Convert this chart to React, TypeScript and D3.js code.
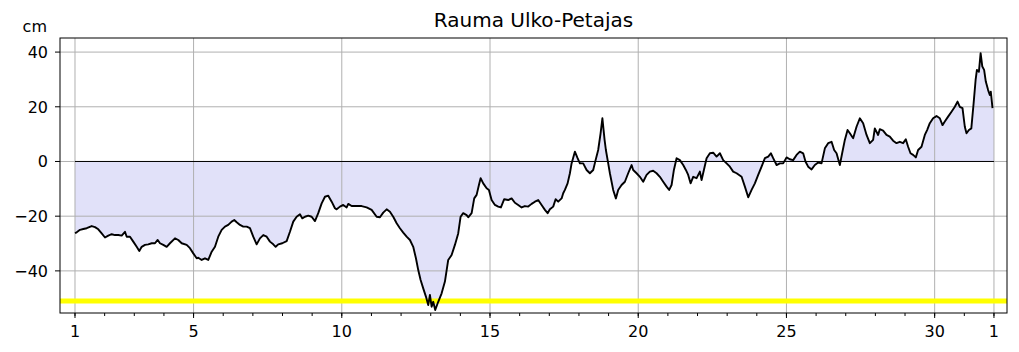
import React from "react";
import * as d3 from "d3";

const title = "Rauma Ulko-Petajas";
const unitLabel = "cm";
const yTicks = [-40, -20, 0, 20, 40];
const xMajorTicks = [1, 5, 10, 15, 20, 25, 30, 32];
const xMajorLabels = ["1", "5", "10", "15", "20", "25", "30", "1"];
const xMinorTicks = d3.range(1, 33);
const referenceLevel = -51;

const days = [
  1.0, 1.057, 1.169, 1.28, 1.395, 1.563, 1.675, 1.786, 1.9, 2.012, 2.123, 2.238, 2.349, 2.46, 2.575, 2.686, 2.744, 2.855, 2.966, 3.081, 3.169, 3.25, 3.361, 3.472, 3.587, 3.698, 3.789, 3.867, 3.978, 4.093, 4.204, 4.373, 4.484, 4.599, 4.767, 4.878, 4.99, 5.105,
  5.159, 5.273, 5.385, 5.496, 5.611, 5.722, 5.833, 5.948, 6.059, 6.17, 6.285, 6.373, 6.454, 6.565, 6.676, 6.791, 6.902, 7.013, 7.128, 7.239, 7.351, 7.466, 7.577, 7.688, 7.769, 7.857, 7.992, 8.14, 8.251, 8.363, 8.477, 8.589, 8.666, 8.757, 8.869, 8.983, 9.095, 9.206, 9.321, 9.432, 9.543, 9.658, 9.769,
  9.826, 9.938, 10.049, 10.164, 10.218, 10.332, 10.501, 10.67, 10.838, 11.007, 11.176, 11.287, 11.398, 11.513, 11.624, 11.735, 11.85, 11.961, 12.073, 12.187, 12.299, 12.41, 12.501, 12.579, 12.659, 12.747, 12.838, 12.916, 12.973, 13.03, 13.084, 13.152, 13.253, 13.368, 13.479, 13.59, 13.705, 13.816, 13.927, 14.008, 14.096, 14.211,
  14.265, 14.38, 14.467, 14.548, 14.626, 14.683, 14.771, 14.886, 14.963, 15.054, 15.166, 15.277, 15.368, 15.479, 15.614, 15.728, 15.84, 15.951, 16.066, 16.177, 16.289, 16.403, 16.515, 16.626, 16.74, 16.852, 16.943, 17.02, 17.132, 17.213, 17.3, 17.415, 17.469, 17.526, 17.617, 17.695, 17.752, 17.863, 17.954, 18.032, 18.143, 18.258, 18.369, 18.481, 18.562, 18.649, 18.73, 18.791,
  18.865, 18.909, 18.987, 19.044, 19.101, 19.155, 19.246, 19.324, 19.438, 19.55, 19.661, 19.776, 19.83, 19.944, 20.056, 20.167, 20.282, 20.393, 20.504, 20.619, 20.73, 20.842, 20.956, 21.044, 21.125, 21.203, 21.294, 21.405, 21.517, 21.607, 21.685, 21.766, 21.854, 21.969, 22.08, 22.137, 22.215, 22.306, 22.417, 22.529, 22.643, 22.755, 22.866, 22.981, 23.092, 23.203, 23.318,
  23.487, 23.598, 23.71, 23.824, 23.935, 24.047, 24.161, 24.273, 24.384, 24.474, 24.552, 24.667, 24.778, 24.889, 25.004, 25.115, 25.226, 25.341, 25.452, 25.564, 25.645, 25.732, 25.847, 25.958, 26.07, 26.184, 26.296, 26.407, 26.522, 26.609, 26.69, 26.801, 26.879, 26.97, 27.061, 27.139, 27.25, 27.364, 27.476, 27.587, 27.702, 27.813,
  27.924, 27.981, 28.092, 28.149, 28.261, 28.375, 28.487, 28.598, 28.713, 28.824, 28.935, 29.026, 29.104, 29.185, 29.273, 29.364, 29.442, 29.556, 29.668, 29.745, 29.836, 29.947, 30.062, 30.173, 30.264, 30.342, 30.453, 30.568, 30.68, 30.771, 30.848, 30.939, 31.017, 31.074, 31.155, 31.236, 31.314, 31.381, 31.425, 31.492, 31.55, 31.607, 31.668, 31.725, 31.803, 31.86, 31.894, 31.951,
];

const levels = [
  -26.2, -25.9, -25.0, -24.7, -24.4, -23.6, -24.0, -24.8, -26.3, -27.8, -27.1, -26.6, -26.9, -26.9, -27.1, -25.7, -27.5, -27.5, -29.3, -31.2, -32.7, -31.2, -30.5, -30.3, -29.9, -29.9, -28.7, -29.9, -30.5, -31.2, -29.9, -28.1, -28.7, -29.9, -30.5, -31.7, -33.6, -35.4,
  -35.2, -36.0, -35.4, -36.0, -33.0, -31.2, -27.5, -25.0, -23.8, -23.2, -22.0, -21.4, -22.2, -23.2, -23.8, -23.8, -24.4, -27.5, -30.3, -28.1, -26.9, -27.5, -29.3, -30.3, -31.2, -30.3, -29.9, -29.1, -25.7, -22.0, -20.2, -19.3, -20.8, -20.2, -19.8, -20.2, -21.8, -18.9, -15.3, -12.9, -12.5, -14.7, -17.1,
  -17.5, -16.5, -15.9, -16.8, -15.5, -16.3, -16.3, -16.3, -16.8, -17.7, -20.2, -20.4, -18.7, -17.5, -18.4, -20.2, -22.6, -24.4, -26.0, -27.5, -28.7, -31.2, -35.4, -39.7, -43.3, -46.4, -49.4, -52.5, -48.8, -53.1, -51.3, -54.3, -51.3, -48.2, -43.9, -36.0, -34.2, -30.5, -26.3, -20.2, -18.9, -19.6,
  -20.4, -18.9, -13.5, -12.2, -8.6, -6.1, -8.0, -9.8, -10.4, -14.1, -15.9, -16.5, -16.8, -13.8, -14.1, -13.5, -15.1, -15.9, -16.8, -16.3, -16.5, -15.5, -14.7, -14.1, -15.9, -17.7, -18.9, -17.5, -16.5, -13.8, -14.7, -13.5, -11.6, -10.4, -8.0, -4.3, -0.7, 3.6, 1.2, -0.7, -0.7, -3.1, -4.3, -3.1, 0.5, 4.2, 10.3, 15.8,
  7.9, 4.2, -0.7, -4.3, -7.4, -10.4, -13.5, -10.4, -8.6, -7.4, -4.3, -1.3, -3.1, -4.3, -5.6, -7.4, -4.9, -3.7, -3.4, -4.3, -5.6, -7.4, -9.2, -10.4, -8.6, -3.1, 1.2, 0.5, -1.3, -3.1, -4.9, -8.0, -5.6, -6.1, -3.7, -6.8, -3.1, 1.2, 3.0, 3.2, 1.8, 3.0, 0.5, -0.7, -1.9, -3.7, -4.3,
  -5.6, -9.2, -13.1, -10.4, -8.0, -4.9, -1.9, 1.2, 1.8, 3.0, 1.2, -1.3, -0.7, -0.7, 1.5, 0.8, 0.5, 2.4, 3.6, 3.0, -0.1, -1.9, -2.9, -1.3, -0.4, -0.7, 4.8, 6.7, 7.2, 4.2, 3.0, -1.3, 3.0, 7.9, 11.5, 10.3, 8.5, 12.7, 15.8, 14.0, 9.7, 6.7,
  7.9, 12.1, 9.7, 11.8, 11.3, 9.7, 9.1, 7.6, 6.7, 7.2, 6.7, 8.1, 5.4, 3.0, 2.4, 1.5, 4.2, 5.4, 9.7, 11.5, 14.0, 15.8, 16.6, 15.8, 13.3, 14.6, 16.4, 18.2, 20.0, 21.9, 20.0, 19.5, 12.7, 10.3, 11.5, 12.1, 21.3, 29.8, 33.5, 32.8, 39.6, 34.7, 33.5, 29.2, 26.1, 24.3, 25.5, 19.5,
];

const W = 1019;
const H = 352;
const left = 60;
const right = 1007;
const top = 38;
const bottom = 313;
const font = "DejaVu Sans, sans-serif";

export default function App() {
  const x = d3.scaleLinear().domain([0.494, 32.44]).range([left, right]);
  const y = d3.scaleLinear().domain([-55.4, 45.15]).range([bottom, top]);

  const pts: [number, number][] = days.map((d, i) => [d, levels[i]]);
  const line = d3
    .line<[number, number]>()
    .x((p) => x(p[0]))
    .y((p) => y(p[1]));
  const area = d3
    .area<[number, number]>()
    .x((p) => x(p[0]))
    .y0(() => y(0))
    .y1((p) => y(p[1]));
  const fillPts: [number, number][] = [...pts, [32, levels[levels.length - 1]]];

  return (
    <svg
      width={W}
      height={H}
      style={{ position: "absolute", left: 0, top: 0, background: "#fff" }}
      fontFamily={font}
    >
      <defs>
        <clipPath id="plot">
          <rect x={left} y={top} width={right - left} height={bottom - top} />
        </clipPath>
      </defs>
      <rect x={0} y={0} width={W} height={H} fill="#fff" />
      <g clipPath="url(#plot)">
        <path d={area(fillPts) || ""} fill="#e1e1f9" stroke="none" />
        {xMajorTicks.map((t) => (
          <line key={"gx" + t} x1={x(t)} x2={x(t)} y1={top} y2={bottom} stroke="#b0b0b0" strokeWidth={1} />
        ))}
        {yTicks.map((t) => (
          <line key={"gy" + t} x1={left} x2={right} y1={y(t)} y2={y(t)} stroke="#b0b0b0" strokeWidth={1} />
        ))}
        <line x1={left} x2={right} y1={y(referenceLevel)} y2={y(referenceLevel)} stroke="#ffff00" strokeWidth={5} />
        <line x1={x(1)} x2={x(32)} y1={y(0)} y2={y(0)} stroke="#000" strokeWidth={1} />
        <path d={line(pts) || ""} fill="none" stroke="#000" strokeWidth={1.9} strokeLinejoin="round" />
      </g>
      <rect x={left} y={top} width={right - left} height={bottom - top} fill="none" stroke="#000" strokeWidth={1} />
      {yTicks.map((t) => (
        <g key={"yt" + t}>
          <line x1={left - 5} x2={left} y1={y(t)} y2={y(t)} stroke="#000" strokeWidth={1} />
          <text x={left - 12} y={y(t)} dy="0.36em" textAnchor="end" fontSize={16} fill="#000">
            {t < 0 ? "\u2212" + Math.abs(t) : String(t)}
          </text>
        </g>
      ))}
      {xMinorTicks.map((t) => (
        <line key={"mt" + t} x1={x(t)} x2={x(t)} y1={bottom} y2={bottom + 3} stroke="#000" strokeWidth={1} />
      ))}
      {xMajorTicks.map((t, i) => (
        <g key={"xt" + t}>
          <line x1={x(t)} x2={x(t)} y1={bottom} y2={bottom + 5} stroke="#000" strokeWidth={1} />
          <text x={x(t)} y={337} textAnchor="middle" fontSize={16} fill="#000">
            {xMajorLabels[i]}
          </text>
        </g>
      ))}
      <text x={47} y={32} textAnchor="end" fontSize={16} fill="#000">
        {unitLabel}
      </text>
      <text x={(left + right) / 2} y={27} textAnchor="middle" fontSize={20} fill="#000">
        {title}
      </text>
    </svg>
  );
}
